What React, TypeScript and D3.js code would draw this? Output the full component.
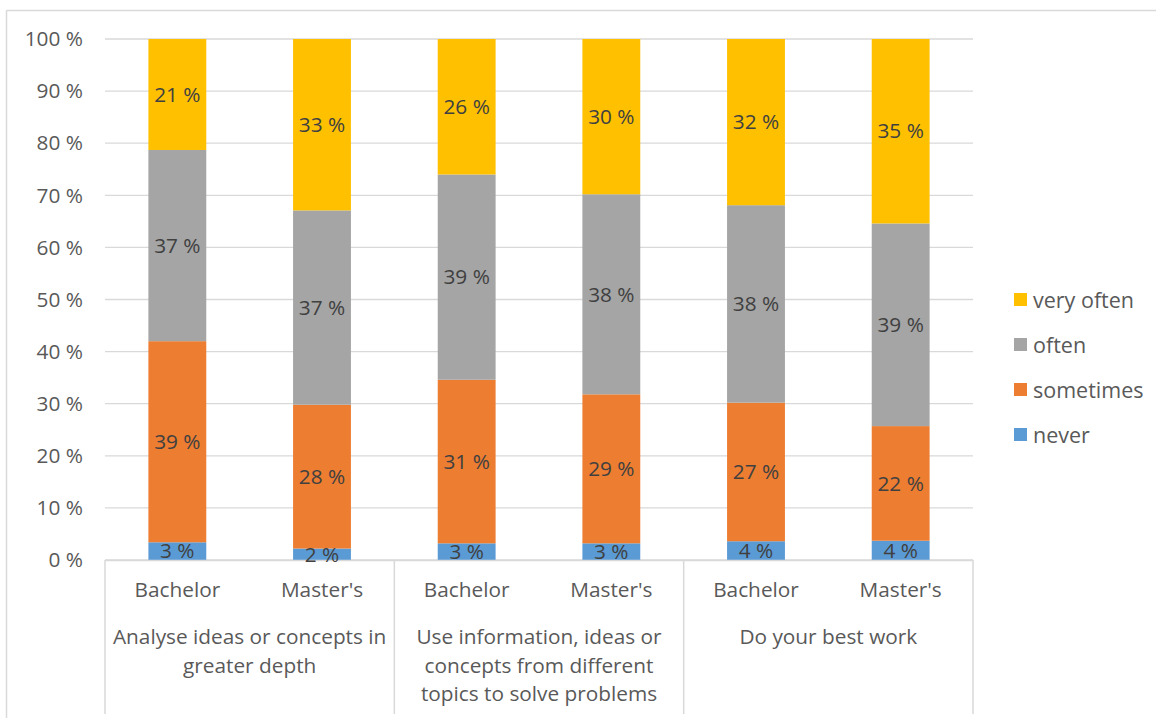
import React from "react";
import * as d3 from "d3";

const groupLines: string[][] = [
  ["Analyse ideas or concepts in", "greater depth"],
  ["Use information, ideas or", "concepts from different", "topics to solve problems"],
  ["Do your best work"],
];
const levels = ["Bachelor", "Master's"];
const seriesNames = ["never", "sometimes", "often", "very often"];
const seriesColors = ["#5B9BD5", "#ED7D31", "#A5A5A5", "#FFC000"];
const never = [3.4, 2.2, 3.2, 3.2, 3.6, 3.7];
const sometimes = [38.6, 27.6, 31.4, 28.6, 26.6, 22.0];
const often = [36.7, 37.3, 39.4, 38.4, 37.9, 38.9];
const veryOften = [21.3, 32.9, 26.0, 29.8, 31.9, 35.4];
const yTicks = [0, 10, 20, 30, 40, 50, 60, 70, 80, 90, 100];

const W = 1156;
const H = 718;
const FONT = "'Open Sans', sans-serif";
const FS = 20.8;

export default function App() {
  const bars = groupLines.flatMap((_, gi) => levels.map((l, li) => ({ id: `${gi}-${li}`, gi, level: l })));
  const rows = bars.map((b, i) => ({
    id: b.id,
    never: never[i],
    sometimes: sometimes[i],
    often: often[i],
    "very often": veryOften[i],
  }));
  const x = d3.scaleBand<string>().domain(bars.map((b) => b.id)).range([105, 973]).paddingInner(0.6).paddingOuter(0.3);
  const y = d3.scaleLinear().domain([0, 100]).range([560, 39]);
  const stack = d3.stack<any>().keys(seriesNames);
  const stacked = stack(rows);
  const step = x.step();
  const groupW = step * 2;
  const x0 = 105;

  return (
    <div style={{ position: "absolute", left: 0, top: 0 }}>
      <svg width={W} height={H} style={{ display: "block", background: "#fff" }} fontFamily={FONT}>
        {/* chart border */}
        <line x1={6.5} y1={10.5} x2={W} y2={10.5} stroke="#d9d9d9" strokeWidth={1.5} />
        <line x1={6.5} y1={10.5} x2={6.5} y2={H} stroke="#d9d9d9" strokeWidth={1.5} />
        {/* gridlines */}
        {yTicks.map((t) => (
          <line key={t} x1={105} x2={973} y1={y(t)} y2={y(t)} stroke="#d9d9d9" strokeWidth={1.3} />
        ))}
        {/* y tick labels */}
        {yTicks.map((t) => (
          <text key={"l" + t} x={83} y={y(t)} dy="0.35em" textAnchor="end" fontSize={FS} fill="#595959">
            {`${t} %`}
          </text>
        ))}
        {/* bars */}
        {stacked.map((s, si) =>
          s.map((d, i) => (
            <rect
              key={`${si}-${i}`}
              x={x(rows[i].id)}
              width={x.bandwidth()}
              y={y(d[1])}
              height={y(d[0]) - y(d[1])}
              fill={seriesColors[si]}
            />
          ))
        )}
        {/* category axis */}
        <line x1={105} x2={973} y1={560.5} y2={560.5} stroke="#d9d9d9" strokeWidth={1.5} />
        {d3.range(groupLines.length + 1).map((k) => (
          <line key={"v" + k} x1={x0 + k * groupW} x2={x0 + k * groupW} y1={560} y2={714} stroke="#d9d9d9" strokeWidth={1.5} />
        ))}
        {bars.map((b) => (
          <text key={"c" + b.id} x={(x(b.id) as number) + x.bandwidth() / 2} y={590} dy="0.35em" textAnchor="middle" fontSize={FS} fill="#595959">
            {b.level}
          </text>
        ))}
        {groupLines.map((lines, gi) =>
          lines.map((ln, li) => (
            <text key={`g${gi}-${li}`} x={x0 + gi * groupW + groupW / 2} y={637 + li * 28.5} dy="0.35em" textAnchor="middle" fontSize={FS} fill="#595959">
              {ln}
            </text>
          ))
        )}
        {/* data labels */}
        {stacked.map((s, si) =>
          s.map((d, i) => (
            <text
              key={`dl${si}-${i}`}
              x={(x(rows[i].id) as number) + x.bandwidth() / 2}
              y={(y(d[0]) + y(d[1])) / 2}
              dy="0.35em"
              textAnchor="middle"
              fontSize={FS}
              fill="#404040"
            >
              {`${Math.round(d[1] - d[0])} %`}
            </text>
          ))
        )}
        {/* legend */}
        {seriesNames
          .map((n, i) => ({ n, c: seriesColors[i] }))
          .reverse()
          .map((it, k) => (
            <g key={it.n} transform={`translate(1014, ${300 + k * 45})`}>
              <rect x={0} y={-7} width={13} height={13} fill={it.c} />
              <text x={19} y={0} dy="0.35em" fontSize={21.5} fill="#595959">
                {it.n}
              </text>
            </g>
          ))}
      </svg>
    </div>
  );
}
